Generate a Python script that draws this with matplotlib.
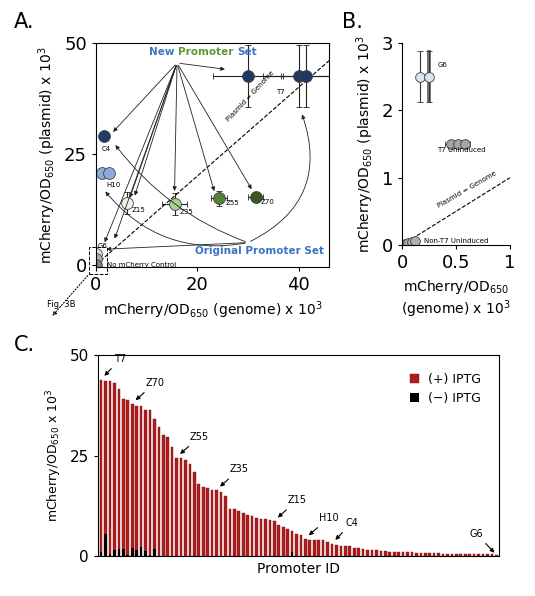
import numpy as np
import matplotlib.pyplot as plt

# panel A data
a_x = [30, 40, 41.5, 1.5, 1.2, 2.6, 6.2, 15.5, 24.3, 31.5, 0, 0, 0]
a_y = [42.5, 42.5, 42.5, 29, 20.8, 20.8, 14, 13.7, 15, 15.2, 2.5, 1.3, 0]
a_xerr = [7, 7, 5, 0, 0, 0, 0, 2.5, 1.5, 1.5, 0, 0, 0]
a_yerr = [7, 7, 7, 0, 0, 0, 2.5, 2.5, 1.7, 1, 0, 0, 0]
a_col = ['#1f3864', '#1f3864', '#1f3864', '#203a6e', '#8eaadb', '#8eaadb',
         '#eef5e4', '#a9d18e', '#548235', '#375623', '#dae3f3', '#b0b0b0', '#7f7f7f']

# panel B data
b_x = [0.17, 0.25, 0.45, 0.52, 0.58, 0.0, 0.03, 0.06, 0.09, 0.12]
b_y = [2.5, 2.5, 1.5, 1.5, 1.5, 0.0, 0.01, 0.03, 0.05, 0.06]
b_xerr = [0, 0, 0.05, 0.05, 0.05, 0, 0, 0, 0, 0]
b_yerr = [0.38, 0.38, 0.04, 0.04, 0.04, 0, 0, 0, 0, 0]
b_col = ['#dae3f3', '#dae3f3', '#a6a6a6', '#a6a6a6', '#a6a6a6', '#7f7f7f', '#999999', '#a6a6a6', '#b0b0b0', '#b0b0b0']

# panel C data
plus_iptg = [43.8, 43.6, 43.5, 43.1, 41.5, 39, 38.7, 37.8, 37.3, 37.3, 36.3, 36.2, 34.2, 32,
             30, 29.5, 27, 24.4, 24.3, 23.8, 23, 21, 18, 17.2, 16.9, 16.3, 16.3, 16, 15, 11.8,
             11.7, 11.1, 10.8, 10.3, 10, 9.5, 9.3, 9.2, 9.0, 8.6, 7.6, 7.2, 6.8, 6.1, 5.4, 5.3,
             4.2, 4.1, 4.1, 4.0, 3.9, 3.6, 3.0, 2.8, 2.6, 2.6, 2.5, 2.1, 2.0, 1.8, 1.6, 1.5,
             1.4, 1.3, 1.2, 1.1, 1.0, 1.0, 1.0, 0.9, 0.9, 0.8, 0.8, 0.8, 0.7, 0.7, 0.7, 0.6,
             0.6, 0.6, 0.6, 0.5, 0.5, 0.5, 0.5, 0.5, 0.4, 0.4, 0.4, 0.3]
minus_iptg = [1.0, 5.5, 0.5, 1.5, 1.8, 1.7, 0.3, 2.0, 1.4, 2.2, 1.2, 0.2, 1.8] + [0.1] * 30 + [1.0] + [0.1] * 46
labels_c = {'T7': 0, 'Z70': 7, 'Z55': 17, 'Z35': 26, 'Z15': 39, 'H10': 46, 'C4': 52, 'G6': 89}

fig = plt.figure(figsize=(5.35, 5.96), dpi=100)
W, H = 535, 596


def box(l, t, r, b):
    return [l / W, 1 - b / H, (r - l) / W, (b - t) / H]


# ---- A ----
ax = fig.add_axes(box(96, 43, 329, 267))
ax.plot([0, 46], [0, 46], 'k--', lw=0.8)
ax.text(30.5, 32, 'Plasmid = Genome', rotation=47, fontsize=5, ha='center', va='bottom')
for x, y, xe, ye, c in zip(a_x, a_y, a_xerr, a_yerr, a_col):
    ax.errorbar(x, y, xerr=xe or None, yerr=ye or None, fmt='o', ms=8.5, mfc=c, mec='#404040',
                mew=0.6, ecolor='#222222', elinewidth=0.8, capsize=2)
for name, (x, y) in {'T7': (35.5, 38.5), 'C4': (1.2, 25.7), 'H10': (2, 17.5), 'Z15': (7, 12),
                     'Z35': (16.5, 11.5), 'Z55': (25.5, 13.5), 'Z70': (32.5, 13.8), 'G6': (0.3, 3.8)}.items():
    ax.text(x, y, name, fontsize=5)
ax.text(2.2, 0, 'No mCherry Control', fontsize=5, va='center')
src = (16, 45.5)
for tx, ty in [(26, 44), (3, 29.5), (6.5, 14.5), (15.5, 16), (23.5, 16), (31, 16.5), (3.5, 5.3), (1.5, 4.5), (7.5, 15)]:
    ax.annotate('', xy=(tx, ty), xytext=src, arrowprops=dict(arrowstyle='-|>', lw=0.6, color='#222222', mutation_scale=6))
# two-colour title, pieces placed one after another
t1 = ax.text(10.5, 47.3, 'New ', color='#3a75c4', fontsize=7.5, fontweight='bold')
fig.canvas.draw()
t2 = ax.annotate('Promoter ', xy=(1, 0), xycoords=t1, va='bottom', color='#5b9b32', fontsize=7.5, fontweight='bold')
ax.annotate('Set', xy=(1, 0), xycoords=t2, va='bottom', color='#3a75c4', fontsize=7.5, fontweight='bold')
ax.text(45, 2.5, 'Original Promoter Set', color='#3a75c4', fontsize=7.5, fontweight='bold', ha='right')
org = (30, 5)
for tx, ty, rad in [(40.5, 34.5, 0.45), (3.5, 27.5, -0.15), (1.5, 17, -0.3), (1.5, 3.5, 0.0)]:
    ax.annotate('', xy=(tx, ty), xytext=org,
                arrowprops=dict(arrowstyle='-|>', lw=0.6, color='#222222', mutation_scale=6,
                                connectionstyle='arc3,rad=%s' % rad))
ax.add_patch(plt.Rectangle((-1.3, -2), 3.5, 6, fill=False, ls='--', lw=0.7, clip_on=False))
ax.annotate('', xy=(-9, -12), xytext=(-1.3, -2), annotation_clip=False,
            arrowprops=dict(arrowstyle='-|>', ls=':', lw=0.8, mutation_scale=6))
ax.text(-4, -9, 'Fig. 3B', fontsize=6, ha='right', va='center')
ax.set_xlim(0, 46)
ax.set_ylim(-0.5, 50)
ax.set_xticks([0, 20, 40])
ax.set_yticks([0, 25, 50])
ax.tick_params(labelsize=13, length=3)
ax.set_xlabel('mCherry/OD$_{650}$ (genome) x 10$^3$', fontsize=10)
ax.set_ylabel('mCherry/OD$_{650}$ (plasmid) x 10$^3$', fontsize=10)
fig.text(14 / W, 1 - 22 / H, 'A.', fontsize=15, va='center')

# ---- B ----
bx = fig.add_axes(box(402, 43, 510, 245))
bx.plot([0, 1], [0, 1], 'k--', lw=0.8)
bx.text(0.6, 0.55, 'Plasmid = Genome', rotation=30, fontsize=5, ha='center')
for x, y, xe, ye, c in zip(b_x, b_y, b_xerr, b_yerr, b_col):
    bx.errorbar(x, y, xerr=xe or None, yerr=ye or None, fmt='o', ms=7, mfc=c, mec='#404040',
                mew=0.6, ecolor='#333333', elinewidth=0.8, capsize=2)
bx.bar([0.25], [0.76], bottom=2.13, width=0.04, color='#777777')
bx.text(0.33, 2.65, 'G6', fontsize=5)
bx.text(0.55, 1.38, 'T7 Uninduced', fontsize=5, ha='center')
bx.text(0.2, 0.06, 'Non-T7 Uninduced', fontsize=5, va='center')
bx.spines[['top', 'right']].set_visible(False)
bx.set_xlim(0, 1)
bx.set_ylim(0, 3)
bx.set_xticks([0, 0.5, 1])
bx.set_xticklabels(['0', '0.5', '1'])
bx.set_yticks([0, 1, 2, 3])
bx.tick_params(labelsize=13, length=3)
bx.set_xlabel('mCherry/OD$_{650}$\n(genome) x 10$^3$', fontsize=10)
bx.set_ylabel('mCherry/OD$_{650}$ (plasmid) x 10$^3$', fontsize=10)
fig.text(342 / W, 1 - 22 / H, 'B.', fontsize=15, va='center')

# ---- C ----
cx = fig.add_axes(box(98, 355, 499, 556))
idx = np.arange(len(plus_iptg))
cx.bar(idx, plus_iptg, width=0.6, color='#b01c1c', edgecolor='#7a1010', lw=0.3, label='(+) IPTG')
cx.bar(idx, minus_iptg, width=0.6, color='black', label='(\u2212) IPTG')
for name, i in labels_c.items():
    v = plus_iptg[i]
    if name == 'G6':
        cx.annotate(name, xy=(i, v), xytext=(i - 6, v + 4.5), fontsize=7,
                    arrowprops=dict(arrowstyle='-|>', lw=0.8, color='black', mutation_scale=6))
    else:
        cx.annotate(name, xy=(i + 0.3, v + 0.5), xytext=(i + 3, v + 4.5), fontsize=7,
                    arrowprops=dict(arrowstyle='-|>', lw=0.8, color='black', mutation_scale=6))
cx.set_xlim(-0.7, len(plus_iptg) - 0.4)
cx.set_ylim(0, 50)
cx.set_xticks([])
cx.set_yticks([0, 25, 50])
cx.tick_params(labelsize=11, length=3)
cx.set_xlabel('Promoter ID', fontsize=10)
cx.set_ylabel('mCherry/OD$_{650}$ x 10$^3$', fontsize=9)
cx.legend(loc='upper right', frameon=False, fontsize=9, handlelength=0.7, handleheight=0.7, borderaxespad=1)
fig.text(14 / W, 1 - 345 / H, 'C.', fontsize=15, va='center')

fig.savefig('out.png', dpi=100)
